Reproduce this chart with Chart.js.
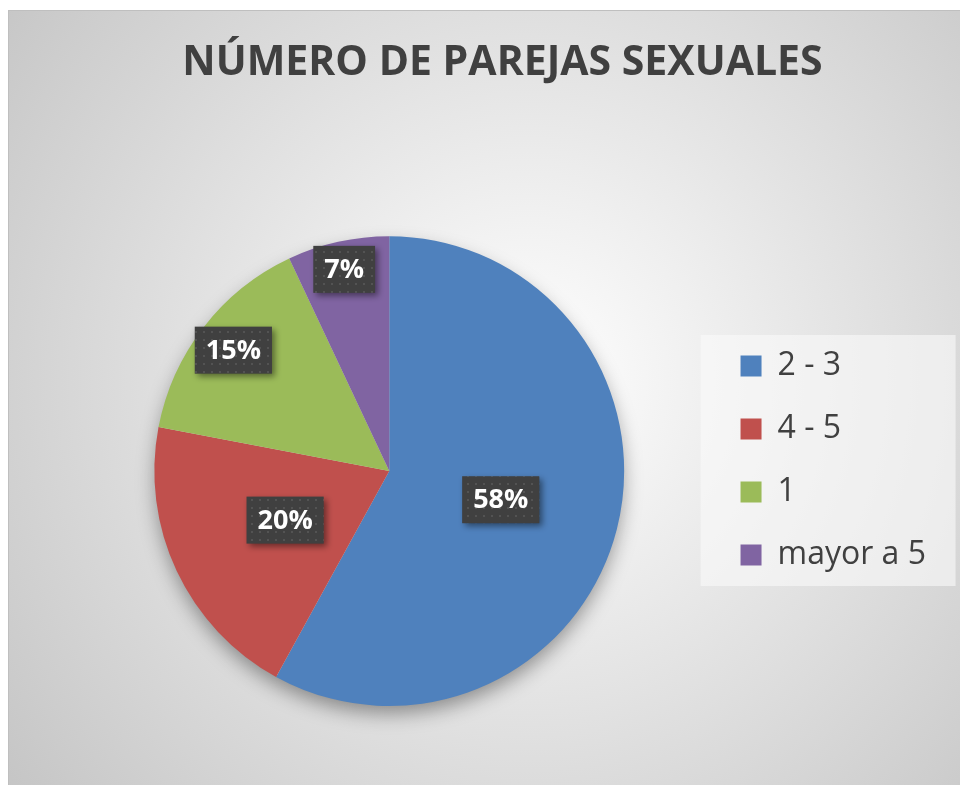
<!DOCTYPE html>
<html>
<head>
<meta charset="utf-8">
<script src="https://cdn.jsdelivr.net/npm/chart.js@4.4.1/dist/chart.umd.min.js"></script>
<style>
  html, body { margin: 0; padding: 0; background: #ffffff; }
  #wrap { width: 960px; height: 785px; position: relative; }
</style>
</head>
<body>
<div id="wrap"><canvas id="chartPie" width="960" height="785"></canvas></div>
<script>
var categorias = ["2 - 3", "4 - 5", "1", "mayor a 5"];
var porcentajes = [58, 20, 15, 7];
var colores = ["#4F81BD", "#C0504D", "#9BBB59", "#8064A2"];
var tituloTexto = "NÚMERO DE PAREJAS SEXUALES";

// distancia relativa de la etiqueta al centro (ubicación "mejor ajuste" de Excel)
var radioEtiqueta = [0.49, 0.49, 0.84, 0.88];

// patrón de puntos para el fondo de las etiquetas
var patCanvas = document.createElement("canvas");
patCanvas.width = 8; patCanvas.height = 8;
var pctx = patCanvas.getContext("2d");
pctx.fillStyle = "#404040";
pctx.fillRect(0, 0, 8, 8);
pctx.fillStyle = "#535353";
pctx.fillRect(3, 3, 2, 2);

var fondoPlugin = {
  id: "fondo",
  beforeDraw: function (chart) {
    var ctx = chart.ctx;
    ctx.save();
    ctx.fillStyle = "#ffffff";
    ctx.fillRect(0, 0, chart.width, chart.height);
    var g = ctx.createRadialGradient(530, 380, 0, 530, 380, 700);
    g.addColorStop(0, "#ffffff");
    g.addColorStop(1, "#c2c2c2");
    ctx.fillStyle = g;
    ctx.fillRect(8, 10, chart.width - 8, chart.height - 10);
    ctx.strokeStyle = "#bfbfbf";
    ctx.lineWidth = 1;
    ctx.strokeRect(8.5, 10.5, chart.width, chart.height);
    // caja de la leyenda
    var lg = chart.legend;
    if (lg && lg.legendHitBoxes && lg.legendHitBoxes.length) {
      var hb = lg.legendHitBoxes;
      var top = hb[0].top + hb[0].height / 2 - 31;
      var bot = hb[hb.length - 1].top + hb[hb.length - 1].height / 2 + 31;
      ctx.fillStyle = "rgba(250,250,250,0.6)";
      ctx.fillRect(lg.left - 9, top, 255, bot - top);
    }
    ctx.restore();
  },
  beforeDatasetsDraw: function (chart) {
    var arc = chart.getDatasetMeta(0).data[0];
    if (!arc) return;
    var ctx = chart.ctx;
    ctx.save();
    ctx.shadowColor = "rgba(0,0,0,0.4)";
    ctx.shadowBlur = 20;
    ctx.shadowOffsetY = 9;
    ctx.fillStyle = "#d8d8d8";
    ctx.beginPath();
    ctx.arc(arc.x, arc.y, arc.outerRadius - 2, 0, Math.PI * 2);
    ctx.fill();
    ctx.restore();
  },
  afterDatasetsDraw: function (chart) {
    var ctx = chart.ctx;
    var meta = chart.getDatasetMeta(0);
    var datos = chart.data.datasets[0].data;
    var total = datos.reduce(function (a, b) { return a + b; }, 0);
    ctx.save();
    ctx.font = "bold 27px 'Open Sans', sans-serif";
    ctx.textAlign = "center";
    ctx.textBaseline = "middle";
    meta.data.forEach(function (arc, i) {
      var mid = (arc.startAngle + arc.endAngle) / 2;
      var r = arc.outerRadius * radioEtiqueta[i];
      var x = arc.x + Math.cos(mid) * r;
      var y = arc.y + Math.sin(mid) * r;
      var txt = Math.round(datos[i] / total * 100) + "%";
      var w = ctx.measureText(txt).width + 22;
      var h = 47;
      ctx.save();
      ctx.shadowColor = "rgba(0,0,0,0.45)";
      ctx.shadowBlur = 6;
      ctx.shadowOffsetX = 3;
      ctx.shadowOffsetY = 3;
      ctx.fillStyle = ctx.createPattern(patCanvas, "repeat");
      ctx.fillRect(x - w / 2, y - h / 2, w, h);
      ctx.restore();
      ctx.fillStyle = "#ffffff";
      ctx.fillText(txt, x, y + 1);
    });
    ctx.restore();
  }
};

var ctxPie = document.getElementById("chartPie").getContext("2d");
var configPie = {
  type: "pie",
  data: {
    labels: categorias,
    datasets: [{
      data: porcentajes,
      backgroundColor: colores,
      borderWidth: 0
    }]
  },
  options: {
    responsive: false,
    animation: false,
    layout: { padding: { left: 69, right: 24, top: 0, bottom: 79 } },
    plugins: {
      tooltip: { enabled: false },
      title: {
        display: true,
        text: tituloTexto,
        color: "#404040",
        font: { family: "'Open Sans', sans-serif", size: 41, weight: "bold", lineHeight: 1.2 },
        padding: { top: 39, bottom: 148 }
      },
      legend: {
        position: "right",
        align: "start",
        title: { display: true, text: "", padding: { top: 302, bottom: 0 }, font: { size: 17, lineHeight: 1 } },
        labels: {
          color: "#404040",
          font: { family: "'Open Sans', sans-serif", size: 32, lineHeight: 1 },
          boxWidth: 21,
          boxHeight: 21,
          padding: 31
        }
      }
    }
  },
  plugins: [fondoPlugin]
};
var graficoPie = new Chart(ctxPie, configPie);
</script>
</body>
</html>
